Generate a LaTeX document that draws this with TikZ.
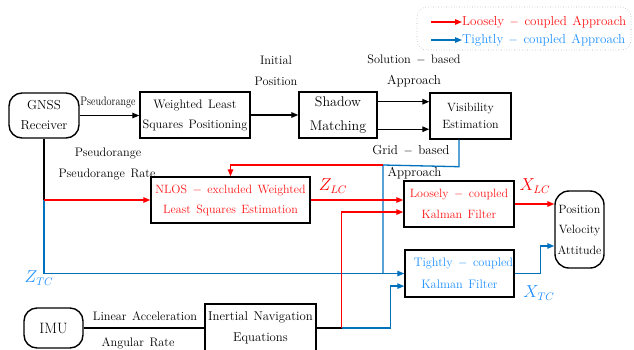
\documentclass[tikz,border=0pt]{standalone}
\usepackage{graphicx}
\usetikzlibrary{arrows.meta,calc}
\definecolor{lcred}{RGB}{255,0,0}
\definecolor{lctext}{RGB}{255,20,20}
\definecolor{tcblue}{RGB}{0,114,189}
\definecolor{tctext}{RGB}{30,144,255}
\newcommand{\widespaces}{\spaceskip=5.5pt plus 1pt minus 1pt\relax}
\newcommand{\sz}[2]{\fontsize{#1}{#2}\selectfont\widespaces}
\begin{document}
\begin{tikzpicture}[x=1pt,y=-1pt,
  txt/.style={font=\sz{12.3}{20}},
  blk/.style={draw, line width=1.4pt, inner sep=0pt, align=center, txt},
  rblk/.style={blk, rounded corners=13pt},
  lbl/.style={inner sep=0pt, txt},
  sym/.style={inner sep=0pt, font=\fontsize{16}{18}\selectfont},
  tip/.style={-{Triangle[length=7pt,width=5.5pt]}},
  wire/.style={line width=1.3pt},
  lcwire/.style={wire, draw=lcred},
  tcwire/.style={wire, draw=tcblue},
]
\useasboundingbox (0,0) rectangle (634,349);

% processing blocks
\node[rblk, minimum width=70pt, minimum height=45pt, font=\sz{13}{20}] (gnss) at (44,115.5) {GNSS\\Receiver};
\node[blk, minimum width=110pt, minimum height=46pt] (wls) at (195,115) {Weighted Least\\Squares Positioning};
\node[blk, minimum width=78pt, minimum height=46pt, font=\sz{14}{24}] (sm) at (338,115) {Shadow\\Matching};
\node[blk, minimum width=81pt, minimum height=46pt, font=\sz{12}{17}] (vis) at (470.5,116) {Visibility\\Estimation};
\node[blk, minimum width=159pt, minimum height=46pt, text=lctext, font=\sz{12}{20}] (nlos) at (230.5,200) {NLOS $-$ excluded Weighted\\Least Squares Estimation};
\node[blk, minimum width=110pt, minimum height=46pt, text=lctext, font=\sz{12}{21}] (lckf) at (459,204) {Loosely $-$ coupled\\Kalman Filter};
\node[blk, minimum width=109pt, minimum height=47pt, text=tctext, font=\sz{12.3}{22}] (tckf) at (459.5,273.5) {\hspace*{8pt}Tightly $-$ coupled\\Kalman Filter};
\node[rblk, minimum width=49pt, minimum height=77pt, rounded corners=14pt, font=\sz{12}{20.5}] (pva) at (579.5,229.5) {Position\\Velocity\\Attitude};
\node[rblk, minimum width=59pt, minimum height=40pt, font=\sz{15}{18}] (imu) at (53.5,328) {IMU};
\node[blk, minimum width=111pt, minimum height=48pt, font=\sz{12.75}{21}] (ins) at (260.5,328) {Inertial Navigation\\Equations};

% junctions and bends
\coordinate (gsplit) at (gnss.south |- nlos.west);
\coordinate (gcorner) at ($(gsplit)+(0,73.5)$);
\coordinate (visout) at ($(vis.south)+(-11.5,0)$);
\coordinate (vbend) at ($(visout)+(0,27)$);
\coordinate (vsplit) at (383,165);
\coordinate (nlosin) at (nlos.north |- vsplit);
\coordinate (imujoin) at ($(ins.east)+(25,0)$);
\coordinate (insbend) at ($(imujoin)+(49,0)$);
\coordinate (smout1) at ($(sm.north east)!0.22!(sm.south east)$);
\coordinate (smout2) at ($(sm.north east)!0.80!(sm.south east)$);
\coordinate (lcin2) at ($(lckf.north west)!0.67!(lckf.south west)$);
\coordinate (tcin2) at ($(tckf.north west)!0.76!(tckf.south west)$);
\coordinate (pvain2) at ($(pva.north west)!0.71!(pva.south west)$);
\coordinate (tcbend) at ($(tckf.east)+(26,0)$);

% black flow
\draw[wire, tip] (gnss.east) -- (gnss.east -| wls.west);
\draw[wire, tip] (wls.east) -- (wls.east -| sm.west);
\draw[wire, tip] (smout1) -- (smout1 -| vis.west);
\draw[wire, tip] (smout2) -- (smout2 -| vis.west);
\draw[wire] (gnss.south) -- (gsplit);
\draw[wire] (imu.east) -- (ins.west);
\draw[wire] (ins.east) -- (imujoin);

% tightly-coupled flow
\draw[tcwire, tip] (gsplit) -- (gcorner) -- (gcorner -| tckf.west);
\draw[tcwire] (visout) -- (vbend) -- (vsplit) -- (vsplit |- gcorner);
\draw[tcwire, tip] (imujoin) -- (insbend) -- (insbend |- tcin2) -- (tcin2);
\draw[tcwire, tip] (tckf.east) -- (tcbend) -- (tcbend |- pvain2) -- (pvain2);

% loosely-coupled flow
\draw[lcwire, tip] (gsplit) -- (nlos.west);
\draw[lcwire, tip] (vsplit) -- (nlosin) -- (nlos.north);
\draw[lcwire, tip] (nlos.east) -- (nlos.east -| lckf.west);
\draw[lcwire, tip] (imujoin) -- (imujoin |- lcin2) -- (lcin2);
\draw[lcwire, tip] (lckf.east) -- (lckf.east -| pva.west);

% labels
\node[lbl] (lpr) at (108,102) {\scalebox{0.83}[1]{Pseudorange}};
\node[lbl] (linit1) at (276,60) {Initial};
\node[lbl] (linit2) at (276,81) {Position};
\node[lbl] (lsol1) at (414,60) {Solution $-$ based};
\node[lbl, font=\sz{13}{16}] (lsol2) at (414,81) {Approach};
\node[lbl, font=\sz{13}{16}] (lgrid1) at (411,150) {Grid $-$ based};
\node[lbl, font=\sz{13}{16}] (lgrid2) at (414.5,173) {Approach};
\node[lbl] (lprr1) at (108,153) {Pseudorange};
\node[lbl] (lprr2) at (107,174) {Pseudorange Rate};
\node[lbl] (lacc) at (145,316) {Linear Acceleration};
\node[lbl] (lrate) at (138,343) {Angular Rate};
\node[sym, text=lcred] (zlc) at (333,186) {$Z_{LC}$};
\node[sym, text=lcred] (xlc) at (535,186) {$X_{LC}$};
\node[sym, text=tctext] (xtc) at (539,293) {$X_{TC}$};
\node[sym, text=tctext] (ztc) at (39,278) {$Z_{TC}$};

% legend
\node[draw=gray!60, dotted, line width=0.6pt, rounded corners=10pt, minimum width=214pt, minimum height=43pt] (legend) at (524,28.5) {};
\coordinate (la1) at (431,22);
\coordinate (la2) at (431,40);
\node[lbl, anchor=west, text=lctext, font=\sz{13}{16}] (lt1) at (462,22) {Loosely $-$ coupled Approach};
\node[lbl, anchor=west, text=tctext, font=\sz{13}{16}] (lt2) at (462,40) {Tightly $-$ coupled Approach};
\draw[lcwire, tip] (la1) -- (lt1.west);
\draw[tcwire, tip] (la2) -- (lt2.west);
\end{tikzpicture}
\end{document}
